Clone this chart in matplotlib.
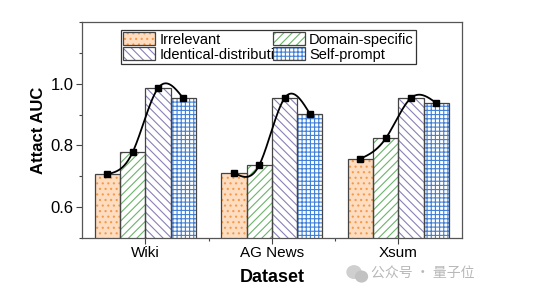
import numpy as np
import matplotlib
matplotlib.use("Agg")
import matplotlib.pyplot as plt
from matplotlib.patches import Patch, Rectangle, Ellipse
from matplotlib.legend_handler import HandlerPatch
from matplotlib.ticker import MultipleLocator

plt.rcParams['font.family'] = ['Liberation Sans', 'DejaVu Sans']
plt.rcParams['hatch.linewidth'] = 0.8

datasets = ["Wiki", "AG News", "Xsum"]
methods = ["Irrelevant", "Domain-specific", "Identical-distribution", "Self-prompt"]
irrelevant = [0.707, 0.712, 0.757]
domain_specific = [0.778, 0.736, 0.823]
identical_distribution = [0.985, 0.953, 0.954]
self_prompt = [0.953, 0.903, 0.937]

series = [irrelevant, domain_specific, identical_distribution, self_prompt]
face_colors = ["#fddcc0", "white", "white", "white"]
hatch_colors = ["#f39a4c", "#6ab46a", "#8a80b8", "#3f7fd6"]
hatches = ["...", "////", "\\\\\\\\", "++++"]


def natural_spline(x, y, n=200):
    x = np.asarray(x, float)
    y = np.asarray(y, float)
    k = len(x)
    h = np.diff(x)
    A = np.zeros((k, k))
    r = np.zeros(k)
    A[0, 0] = A[-1, -1] = 1.0
    for i in range(1, k - 1):
        A[i, i - 1] = h[i - 1]
        A[i, i] = 2 * (h[i - 1] + h[i])
        A[i, i + 1] = h[i]
        r[i] = 6 * ((y[i + 1] - y[i]) / h[i] - (y[i] - y[i - 1]) / h[i - 1])
    m = np.linalg.solve(A, r)
    xs = np.linspace(x[0], x[-1], n)
    idx = np.clip(np.searchsorted(x, xs) - 1, 0, k - 2)
    x0, x1 = x[idx], x[idx + 1]
    hh = x1 - x0
    t0, t1 = x1 - xs, xs - x0
    ys = (m[idx] * t0 ** 3 + m[idx + 1] * t1 ** 3) / (6 * hh) \
        + (y[idx] / hh - m[idx] * hh / 6) * t0 \
        + (y[idx + 1] / hh - m[idx + 1] * hh / 6) * t1
    return xs, ys


fig = plt.figure(figsize=(5.38, 2.98), dpi=100)
ax = fig.add_axes([0.1524, 0.2013, 0.7058, 0.7247])

x = np.arange(len(datasets))
width = 0.2
offsets = [-0.3, -0.1, 0.1, 0.3]
edge = "#444444"

for vals, off, fc, hc, hatch in zip(series, offsets, face_colors, hatch_colors, hatches):
    ax.bar(x + off, vals, width, bottom=0, facecolor=fc, edgecolor=hc,
           hatch=hatch, linewidth=0, zorder=2)
    ax.bar(x + off, vals, width, bottom=0, fill=False, edgecolor=edge,
           linewidth=0.9, zorder=3)

# smooth connector through the bar tops of each dataset
for g in range(len(datasets)):
    px = [g + o for o in offsets]
    py = [s[g] for s in series]
    xs, ys = natural_spline(px, py)
    ax.plot(xs, ys, color="black", lw=1.3, zorder=4)
    ax.plot(px, py, ls="none", marker="s", ms=4.5, color="black", zorder=5)

ax.set_xlim(-0.5, 2.5)
ax.set_ylim(0.5, 1.2)
ax.set_xticks(x)
ax.set_xticklabels(datasets, fontsize=11)
ax.set_xticks([0.5, 1.5], minor=True)
ax.yaxis.set_minor_locator(MultipleLocator(0.1))
ax.set_yticks([0.6, 0.8, 1.0])
ax.set_yticklabels(["0.6", "0.8", "1.0"], fontsize=12)
ax.tick_params(axis="both", which="major", direction="out", length=4,
               width=0.8, color="#444444", pad=2)
ax.tick_params(axis="both", which="minor", direction="out", length=2.5,
               width=0.8, color="#444444")
for sp in ax.spines.values():
    sp.set_color("#555555")
    sp.set_linewidth(0.9)

ax.set_ylabel("Attact AUC", fontsize=12, fontweight="bold", labelpad=3)
ax.set_xlabel("Dataset", fontsize=13, fontweight="bold", labelpad=6)


class BoxedHatch(HandlerPatch):
    def create_artists(self, legend, orig_handle, xdescent, ydescent,
                       width, height, fontsize, trans):
        inner = Rectangle((-xdescent, -ydescent), width, height,
                          facecolor=orig_handle.get_facecolor(),
                          edgecolor=orig_handle.get_edgecolor(),
                          hatch=orig_handle.get_hatch(), linewidth=0,
                          transform=trans)
        outer = Rectangle((-xdescent, -ydescent), width, height,
                          fill=False, edgecolor=edge, linewidth=0.9,
                          transform=trans)
        return [inner, outer]


handles = [Patch(facecolor=fc, edgecolor=hc, hatch=h, linewidth=0)
           for fc, hc, h in zip(face_colors, hatch_colors, hatches)]
# two columns filled row by row
order = [0, 2, 1, 3]
leg = ax.legend([handles[i] for i in order], [methods[i] for i in order],
                ncol=2, loc="lower left",
                bbox_to_anchor=(0.103, 0.806, 0.777, 0.166), mode="expand",
                fontsize=10.5, handlelength=2.2, handleheight=1.0,
                handletextpad=0.3, columnspacing=0.2, labelspacing=0.05,
                borderpad=0.15, borderaxespad=0, fancybox=False,
                edgecolor="#333333", framealpha=1,
                handler_map={Patch: BoxedHatch()})
leg.get_frame().set_linewidth(0.9)

# watermark
fig.text(0.69, 0.08, "公众号 · 量子位", fontsize=10, color="#b8b8b8",
         family=["Noto Sans CJK SC", "DejaVu Sans"], ha="left", va="center")
fig.patches.append(Ellipse((0.658, 0.087), 0.026, 0.042, color="#cfcfcf",
                           transform=fig.transFigure, figure=fig))
fig.patches.append(Ellipse((0.672, 0.072), 0.022, 0.036, color="#c2c2c2",
                           transform=fig.transFigure, figure=fig))

fig.savefig("out.png", dpi=100)
